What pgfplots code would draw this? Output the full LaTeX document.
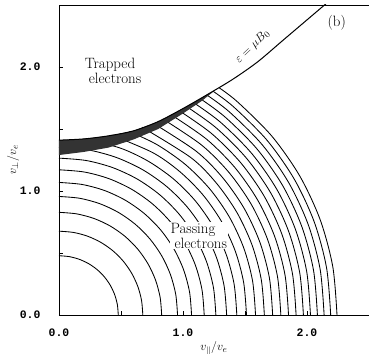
\documentclass[border=0pt]{standalone}
\usepackage{pgfplots}
\pgfplotsset{compat=1.18}
\usepackage{fontspec}
\setmonofont{Liberation Mono}
\begin{document}
\begin{tikzpicture}
\begin{axis}[
 width=310bp, height=310bp, scale only axis,
 xmin=0, xmax=2.5, ymin=0, ymax=2.5,
 xtick={0,1,2}, ytick={0,1,2},
 minor xtick={0.5,1.5}, minor ytick={0.5,1.5},
 xticklabels={0.0,1.0,2.0}, yticklabels={0.0,1.0,2.0},
 tick align=inside, xtick pos=bottom, ytick pos=left,
 major tick length=4bp, minor tick length=4bp,
 ticklabel style={font=\ttfamily\bfseries\fontsize{11.5}{12}\selectfont},
 xticklabel style={yshift=-10bp}, yticklabel style={xshift=-15bp},
 xlabel={$v_\parallel/v_e$}, ylabel={$v_\perp/v_e$},
 label style={font=\fontsize{12.5}{12.5}\selectfont},
 x label style={at={(axis description cs:0.5,-0.108)}, anchor=center},
 y label style={at={(axis description cs:-0.148,0.5)}, anchor=center},
 axis line style={line width=0.8bp},
 every tick/.style={black, line width=0.6bp},
]
% constant-energy arcs (angle in degrees, radius)
\pgfplotsset{arc/.style={black, line width=0.85bp, smooth, data cs=polar}}
\addplot[arc] coordinates {(0,0.478)(10,0.478)(20,0.478)(30,0.478)(40,0.478)(50,0.478)(60,0.478)(70,0.478)(80,0.478)(90,0.478)};
\addplot[arc] coordinates {(0,0.676)(10,0.676)(20,0.676)(30,0.676)(40,0.676)(50,0.676)(60,0.676)(70,0.676)(80,0.676)(90,0.676)};
\addplot[arc] coordinates {(0,0.828)(10,0.828)(20,0.828)(30,0.828)(40,0.828)(50,0.828)(60,0.828)(70,0.828)(80,0.828)(90,0.828)};
\addplot[arc] coordinates {(0,0.956)(10,0.956)(20,0.956)(30,0.956)(40,0.956)(50,0.956)(60,0.956)(70,0.956)(80,0.956)(90,0.956)};
\addplot[arc] coordinates {(0,1.069)(10,1.069)(20,1.069)(30,1.069)(40,1.069)(50,1.069)(60,1.069)(70,1.069)(80,1.069)(90,1.069)};
\addplot[arc] coordinates {(0,1.171)(10,1.171)(20,1.171)(30,1.171)(40,1.171)(50,1.171)(60,1.171)(70,1.171)(80,1.171)(90,1.171)};
\addplot[arc] coordinates {(0,1.265)(10,1.265)(20,1.265)(30,1.265)(40,1.265)(50,1.265)(60,1.265)(70,1.265)(80,1.265)(90,1.265)};
\addplot[arc] coordinates {(0,1.352)(10,1.352)(20,1.352)(30,1.352)(40,1.352)(50,1.352)(60,1.352)(70,1.352)(80,1.352)(90,1.352)};
\addplot[arc] coordinates {(0,1.434)(10,1.434)(20,1.434)(30,1.434)(40,1.434)(50,1.434)(60,1.434)(70,1.434)(82.0,1.434)};
\addplot[arc] coordinates {(0,1.512)(10,1.512)(20,1.512)(30,1.512)(40,1.512)(50,1.512)(60,1.512)(73.7,1.512)};
\addplot[arc] coordinates {(0,1.585)(10,1.585)(20,1.585)(30,1.585)(40,1.585)(50,1.585)(60,1.585)(69.0,1.585)};
\addplot[arc] coordinates {(0,1.656)(10,1.656)(20,1.656)(30,1.656)(40,1.656)(50,1.656)(66.1,1.656)};
\addplot[arc] coordinates {(0,1.723)(10,1.723)(20,1.723)(30,1.723)(40,1.723)(50,1.723)(63.8,1.723)};
\addplot[arc] coordinates {(0,1.789)(10,1.789)(20,1.789)(30,1.789)(40,1.789)(50,1.789)(62.1,1.789)};
\addplot[arc] coordinates {(0,1.851)(10,1.851)(20,1.851)(30,1.851)(40,1.851)(50,1.851)(60.8,1.851)};
\addplot[arc] coordinates {(0,1.912)(10,1.912)(20,1.912)(30,1.912)(40,1.912)(50,1.912)(59.6,1.912)};
\addplot[arc] coordinates {(0,1.971)(10,1.971)(20,1.971)(30,1.971)(40,1.971)(50,1.971)(58.6,1.971)};
\addplot[arc] coordinates {(0,2.028)(10,2.028)(20,2.028)(30,2.028)(40,2.028)(50,2.028)(57.7,2.028)};
\addplot[arc] coordinates {(0,2.084)(10,2.084)(20,2.084)(30,2.084)(40,2.084)(50,2.084)(56.9,2.084)};
\addplot[arc] coordinates {(0,2.138)(10,2.138)(20,2.138)(30,2.138)(40,2.138)(50,2.138)(56.1,2.138)};
\addplot[arc] coordinates {(0,2.191)(10,2.191)(20,2.191)(30,2.191)(40,2.191)(50,2.191)(55.5,2.191)};
\addplot[arc] coordinates {(0,2.242)(10,2.242)(20,2.242)(30,2.242)(40,2.242)(50,2.242)(54.9,2.242)};
% dense band of contours just below the boundary
\addplot[fill=black!80, draw=none] coordinates {(0,1.41)(0.2,1.42)(0.4,1.445)(0.6,1.485)(0.8,1.56)(1.0,1.665)(1.2,1.78)(1.27,1.822)(1.15,1.725)(1.0,1.625)(0.8,1.50)(0.6,1.415)(0.4,1.35)(0.2,1.315)(0,1.29)} -- cycle;
% boundary epsilon = mu B0
\addplot[black, line width=1bp, smooth] coordinates {(0,1.41)(0.2,1.42)(0.4,1.445)(0.6,1.485)(0.8,1.56)(1.0,1.665)(1.2,1.78)(1.4,1.90)(1.6,2.04)(1.8,2.21)(2.0,2.38)(2.2,2.55)};
\node[anchor=west, align=left, font=\fontsize{15}{15}\selectfont] at (axis cs:0.18,1.97) {Trapped\\\hspace*{4bp}electrons};
\node[anchor=west, align=left, fill=white, inner sep=1bp, font=\fontsize{15}{15}\selectfont] at (axis cs:0.89,0.64) {Passing\\\hspace*{4bp}electrons};
\node[rotate=43.5, font=\fontsize{13}{13}\selectfont] at (axis cs:1.56,2.165) {$\varepsilon=\mu B_0$};
\node[font=\fontsize{15}{15}\selectfont] at (axis cs:2.24,2.355) {(b)};
\end{axis}
\pgfresetboundingbox
\path ([shift={(-59bp,-39bp)}]current axis.south west) rectangle ([shift={(0bp,5bp)}]current axis.north east);
\end{tikzpicture}
\end{document}
